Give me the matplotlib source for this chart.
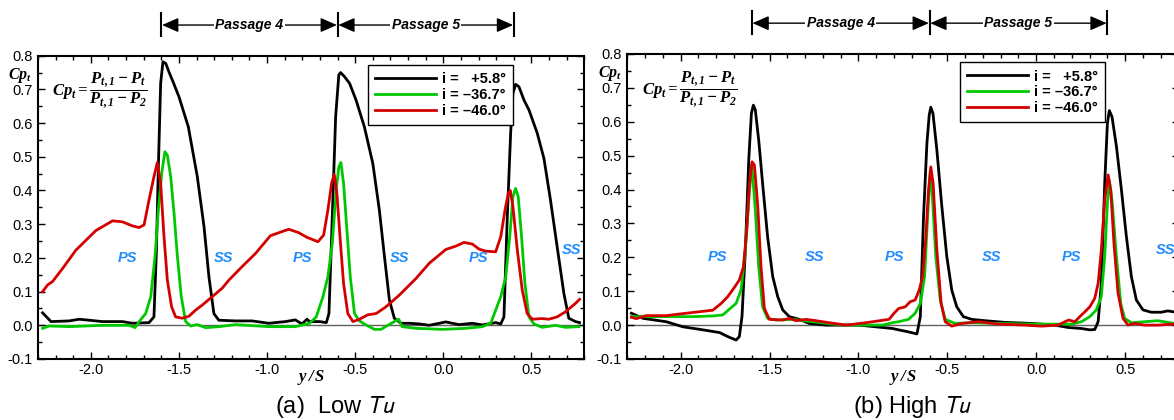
import numpy as np
import matplotlib
matplotlib.use('Agg')
import matplotlib.pyplot as plt
from matplotlib.ticker import MultipleLocator, FormatStrFormatter

plt.rcParams['font.family'] = 'Liberation Sans'
plt.rcParams['axes.unicode_minus'] = False
plt.rcParams['mathtext.fontset'] = 'custom'
plt.rcParams['mathtext.it'] = 'Liberation Serif:italic:bold'
plt.rcParams['mathtext.rm'] = 'Liberation Serif:italic:bold'
plt.rcParams['mathtext.bf'] = 'Liberation Serif:italic:bold'

# ---- data: (y/S, Cp_t) pairs ----
series_labels = ['i =   +5.8°', 'i = \u201336.7°', 'i = \u201346.0°']
series_colors = ['black', '#00c800', '#d40000']

low_black = [(-2.274, 0.037), (-2.226, 0.011), (-2.123, 0.013), (-2.066, 0.018), (-1.934, 0.011),
             (-1.821, 0.011), (-1.764, 0.006), (-1.670, 0.008), (-1.642, 0.025), (-1.628, 0.223),
             (-1.617, 0.470), (-1.604, 0.718), (-1.591, 0.782), (-1.575, 0.777), (-1.557, 0.752),
             (-1.534, 0.723), (-1.500, 0.678), (-1.447, 0.589), (-1.396, 0.441), (-1.358, 0.293),
             (-1.330, 0.144), (-1.302, 0.035), (-1.274, 0.015), (-1.179, 0.013), (-1.085, 0.013),
             (-0.991, 0.006), (-0.896, 0.011), (-0.840, 0.016), (-0.802, 0.004), (-0.774, 0.018),
             (-0.759, 0.011), (-0.702, 0.011), (-0.664, 0.008), (-0.649, 0.035), (-0.630, 0.322),
             (-0.611, 0.619), (-0.593, 0.743), (-0.583, 0.750), (-0.561, 0.738), (-0.532, 0.718),
             (-0.495, 0.668), (-0.448, 0.589), (-0.400, 0.480), (-0.363, 0.342), (-0.334, 0.204),
             (-0.306, 0.075), (-0.278, 0.021), (-0.240, 0.006), (-0.193, 0.006), (-0.136, 0.004),
             (-0.080, 0.000), (0.014, 0.010), (0.090, 0.002), (0.165, 0.006), (0.222, 0.001),
             (0.297, 0.008), (0.326, 0.004), (0.344, 0.025), (0.363, 0.322), (0.382, 0.570),
             (0.395, 0.688), (0.410, 0.715), (0.429, 0.708), (0.458, 0.668), (0.486, 0.639),
             (0.533, 0.570), (0.571, 0.495), (0.608, 0.372), (0.646, 0.233), (0.684, 0.095),
             (0.712, 0.021), (0.750, 0.011), (0.773, 0.008)]

low_green = [(-2.274, -0.009), (-2.236, -0.002), (-2.123, -0.004), (-1.934, 0.000), (-1.783, 0.000),
             (-1.749, -0.007), (-1.726, 0.011), (-1.689, 0.035), (-1.660, 0.085), (-1.636, 0.204),
             (-1.617, 0.342), (-1.598, 0.451), (-1.580, 0.515), (-1.566, 0.505), (-1.547, 0.441),
             (-1.528, 0.332), (-1.509, 0.204), (-1.487, 0.085), (-1.462, 0.011), (-1.434, -0.002),
             (-1.396, 0.002), (-1.349, -0.007), (-1.274, -0.004), (-1.179, 0.002), (-0.991, -0.004),
             (-0.840, -0.004), (-0.759, 0.006), (-0.721, 0.025), (-0.683, 0.085), (-0.655, 0.144),
             (-0.630, 0.243), (-0.608, 0.402), (-0.593, 0.470), (-0.581, 0.483), (-0.566, 0.421),
             (-0.547, 0.283), (-0.528, 0.144), (-0.504, 0.035), (-0.476, 0.013), (-0.438, 0.001),
             (-0.391, -0.012), (-0.353, -0.012), (-0.315, 0.000), (-0.278, 0.011), (-0.253, 0.018),
             (-0.234, -0.004), (-0.155, -0.009), (-0.004, -0.012), (0.128, -0.009), (0.222, -0.004),
             (0.269, 0.006), (0.297, 0.045), (0.326, 0.085), (0.354, 0.144), (0.377, 0.263),
             (0.395, 0.382), (0.410, 0.406), (0.425, 0.382), (0.444, 0.263), (0.463, 0.124),
             (0.486, 0.025), (0.514, 0.004), (0.561, -0.006), (0.637, 0.000), (0.693, -0.006),
             (0.769, -0.004)]

low_red = [(-2.274, 0.100), (-2.245, 0.120), (-2.217, 0.130), (-2.160, 0.169), (-2.085, 0.223),
           (-1.972, 0.281), (-1.877, 0.310), (-1.821, 0.307), (-1.764, 0.295), (-1.726, 0.290),
           (-1.698, 0.298), (-1.670, 0.372), (-1.642, 0.441), (-1.623, 0.483), (-1.604, 0.421),
           (-1.585, 0.263), (-1.566, 0.134), (-1.542, 0.055), (-1.519, 0.025), (-1.481, 0.021),
           (-1.443, 0.027), (-1.406, 0.045), (-1.368, 0.060), (-1.311, 0.085), (-1.255, 0.110),
           (-1.217, 0.134), (-1.142, 0.174), (-1.066, 0.213), (-0.981, 0.266), (-0.877, 0.285),
           (-0.821, 0.275), (-0.774, 0.261), (-0.759, 0.258), (-0.711, 0.248), (-0.679, 0.268),
           (-0.655, 0.342), (-0.634, 0.421), (-0.619, 0.448), (-0.604, 0.392), (-0.585, 0.253),
           (-0.566, 0.124), (-0.542, 0.035), (-0.513, 0.011), (-0.476, 0.018), (-0.429, 0.031),
           (-0.381, 0.035), (-0.325, 0.055), (-0.249, 0.090), (-0.155, 0.139), (-0.080, 0.184),
           (0.014, 0.225), (0.071, 0.235), (0.118, 0.246), (0.165, 0.241), (0.203, 0.226),
           (0.241, 0.220), (0.297, 0.218), (0.326, 0.263), (0.350, 0.342), (0.369, 0.392),
           (0.380, 0.400), (0.395, 0.352), (0.420, 0.223), (0.448, 0.104), (0.476, 0.035),
           (0.505, 0.018), (0.561, 0.020), (0.599, 0.018), (0.646, 0.025), (0.693, 0.040),
           (0.750, 0.065), (0.773, 0.077)]

high_black = [(-2.277, 0.035), (-2.212, 0.020), (-2.081, 0.010), (-1.987, -0.005), (-1.875, -0.014),
              (-1.781, -0.022), (-1.754, -0.029), (-1.726, -0.036), (-1.688, -0.044), (-1.670, -0.034),
              (-1.655, 0.025), (-1.636, 0.222), (-1.617, 0.487), (-1.602, 0.625), (-1.591, 0.649),
              (-1.580, 0.635), (-1.561, 0.546), (-1.539, 0.418), (-1.511, 0.261), (-1.482, 0.143),
              (-1.454, 0.084), (-1.426, 0.045), (-1.389, 0.025), (-1.333, 0.017), (-1.277, 0.005),
              (-1.183, 0.000), (-1.090, 0.000), (-0.997, 0.000), (-0.903, -0.005), (-0.809, -0.010),
              (-0.774, -0.014), (-0.727, -0.019), (-0.671, -0.026), (-0.652, 0.025), (-0.634, 0.320),
              (-0.615, 0.536), (-0.602, 0.620), (-0.593, 0.643), (-0.581, 0.625), (-0.559, 0.517),
              (-0.531, 0.350), (-0.503, 0.202), (-0.475, 0.103), (-0.447, 0.054), (-0.410, 0.025),
              (-0.363, 0.017), (-0.288, 0.013), (-0.176, 0.008), (-0.026, 0.005), (0.105, 0.000),
              (0.179, -0.007), (0.254, -0.010), (0.301, -0.014), (0.329, -0.013), (0.348, 0.010),
              (0.366, 0.123), (0.385, 0.418), (0.400, 0.595), (0.411, 0.633), (0.426, 0.615),
              (0.451, 0.527), (0.479, 0.399), (0.507, 0.261), (0.535, 0.143), (0.563, 0.074),
              (0.600, 0.045), (0.647, 0.038), (0.703, 0.038), (0.740, 0.042), (0.774, 0.039),
              (0.800, 0.038)]

high_green = [(-2.277, 0.025), (-2.193, 0.025), (-2.081, 0.025), (-1.931, 0.025), (-1.819, 0.027),
              (-1.763, 0.030), (-1.726, 0.047), (-1.688, 0.064), (-1.660, 0.104), (-1.636, 0.222),
              (-1.617, 0.369), (-1.600, 0.475), (-1.580, 0.340), (-1.561, 0.172), (-1.539, 0.054),
              (-1.511, 0.020), (-1.464, 0.015), (-1.370, 0.017), (-1.258, 0.010), (-1.146, 0.003),
              (-1.071, 0.000), (-0.959, 0.000), (-0.865, 0.000), (-0.809, 0.007), (-0.774, 0.010),
              (-0.718, 0.017), (-0.681, 0.035), (-0.652, 0.064), (-0.628, 0.143), (-0.609, 0.340),
              (-0.596, 0.458), (-0.583, 0.369), (-0.565, 0.202), (-0.540, 0.074), (-0.512, 0.017),
              (-0.456, 0.005), (-0.363, 0.007), (-0.213, 0.005), (-0.026, 0.003), (0.123, 0.003),
              (0.198, 0.003), (0.254, 0.010), (0.301, 0.025), (0.338, 0.045), (0.366, 0.084),
              (0.385, 0.202), (0.400, 0.359), (0.411, 0.428), (0.426, 0.369), (0.451, 0.202),
              (0.475, 0.064), (0.497, 0.020), (0.535, 0.007), (0.609, 0.010), (0.684, 0.013),
              (0.774, 0.005), (0.800, 0.004)]

high_red = [(-2.277, 0.023), (-2.249, 0.019), (-2.193, 0.028), (-2.081, 0.028), (-1.969, 0.035),
            (-1.819, 0.044), (-1.772, 0.064), (-1.735, 0.084), (-1.698, 0.111), (-1.670, 0.133),
            (-1.647, 0.172), (-1.628, 0.281), (-1.613, 0.418), (-1.598, 0.482), (-1.585, 0.472),
            (-1.566, 0.349), (-1.548, 0.172), (-1.529, 0.049), (-1.501, 0.017), (-1.426, 0.015),
            (-1.389, 0.020), (-1.351, 0.013), (-1.295, 0.017), (-1.239, 0.013), (-1.164, 0.007),
            (-1.071, 0.000), (-0.959, 0.007), (-0.828, 0.017), (-0.800, 0.035), (-0.774, 0.049),
            (-0.737, 0.054), (-0.709, 0.069), (-0.681, 0.074), (-0.658, 0.104), (-0.639, 0.143),
            (-0.621, 0.261), (-0.606, 0.398), (-0.593, 0.467), (-0.580, 0.418), (-0.559, 0.222),
            (-0.535, 0.064), (-0.512, 0.010), (-0.475, -0.003), (-0.419, 0.005), (-0.325, 0.010),
            (-0.213, 0.003), (-0.064, 0.000), (0.030, -0.003), (0.123, 0.000), (0.161, 0.010),
            (0.183, 0.015), (0.217, 0.010), (0.245, 0.025), (0.273, 0.039), (0.301, 0.054),
            (0.329, 0.079), (0.348, 0.123), (0.366, 0.222), (0.385, 0.369), (0.404, 0.443),
            (0.419, 0.398), (0.437, 0.241), (0.460, 0.094), (0.488, 0.020), (0.516, 0.000),
            (0.553, 0.005), (0.609, 0.000), (0.684, 0.000), (0.774, 0.003), (0.800, 0.004)]

passage_edges = [-1.6, -0.6, 0.4]
passage_names = ['Passage 4', 'Passage 5']
side_labels = ['PS', 'SS', 'PS', 'SS', 'PS', 'SS']
side_x = [-1.794, -1.245, -0.798, -0.249, 0.20, 0.725]
side_y = [0.2, 0.2, 0.2, 0.2, 0.2, 0.223]


def draw_panel(ax, curves, legend_anchor, caption, caption_x):
    ax.axhline(0.0, color='#606060', lw=1.0, zorder=1)
    handles = []
    for data, col in zip(curves, series_colors):
        xy = np.array(data).T
        h, = ax.plot(xy[0], xy[1], color=col, lw=2.0, zorder=3)
        handles.append(h)

    ax.set_xlim(-2.3, 0.8)
    ax.set_ylim(-0.1, 0.8)
    ax.xaxis.set_major_locator(MultipleLocator(0.5))
    ax.xaxis.set_minor_locator(MultipleLocator(0.1))
    ax.yaxis.set_major_locator(MultipleLocator(0.1))
    ax.yaxis.set_minor_locator(MultipleLocator(0.05))
    ax.xaxis.set_major_formatter(FormatStrFormatter('%.1f'))
    ax.yaxis.set_major_formatter(FormatStrFormatter('%.1f'))
    ax.tick_params(which='both', direction='in', top=True, right=True, width=1, labelsize=10.5)
    ax.tick_params(which='major', length=5)
    ax.tick_params(which='minor', length=3)
    ax.tick_params(axis='y', pad=4)
    ax.tick_params(axis='x', pad=3)
    for s in ax.spines.values():
        s.set_linewidth(1.5)

    leg = ax.legend(handles, series_labels, loc='upper left', bbox_to_anchor=legend_anchor,
                    prop={'weight': 'bold', 'size': 10.5}, fancybox=False, edgecolor='black',
                    framealpha=1, handlelength=4.2, handletextpad=0.4, labelspacing=0.12,
                    borderpad=0.5, borderaxespad=0)
    leg.get_frame().set_linewidth(1.0)

    for lab, x, y in zip(side_labels, side_x, side_y):
        ax.text(x, y, lab, color='#1e8cff', fontsize=10.5, fontweight='bold', fontstyle='italic',
                ha='center', va='center', zorder=4)

    # passage markers above the frame
    for x in passage_edges:
        ax.plot([x, x], [0.858, 0.926], color='black', lw=1.5, clip_on=False)
    for i, name in enumerate(passage_names):
        x0, x1 = passage_edges[i], passage_edges[i + 1]
        ax.annotate('', xy=(x1 - 0.004, 0.891), xytext=(x0 + 0.004, 0.891),
                    arrowprops=dict(arrowstyle='<|-|>,head_length=0.5,head_width=0.22',
                                    color='black', lw=1.0, shrinkA=0, shrinkB=0,
                                    mutation_scale=20),
                    annotation_clip=False)
        ax.text((x0 + x1) / 2, 0.891, name, fontsize=10, fontweight='bold', fontstyle='italic',
                ha='center', va='center', clip_on=False,
                bbox=dict(facecolor='white', edgecolor='none', pad=1.0))

    ax.text(0.026, 0.886, r'$Cp_t = \dfrac{P_{t,1} - P_t}{P_{t,1} - P_2}$', transform=ax.transAxes,
            fontsize=12, ha='left', va='center')
    ax.text(-0.032, 0.935, r'$Cp_t$', transform=ax.transAxes, fontsize=11.5, ha='center', va='center')
    ax.text(0.5, -0.06, r'$y\,/\,S$', transform=ax.transAxes, fontsize=12, ha='center', va='center')

    ax.figure.text(caption_x, 0.032, caption, fontsize=17, ha='left', va='center',
                   math_fontfamily='stixsans')


fig = plt.figure(figsize=(11.74, 4.20), dpi=100)
ax_low = fig.add_axes([38 / 1174, 1 - 359 / 420, 546.3 / 1174, 303.3 / 420])
ax_high = fig.add_axes([627.3 / 1174, 1 - 359 / 420, 551.2 / 1174, 305 / 420])

draw_panel(ax_low, [low_black, low_green, low_red], (0.6035, 0.969),
           r'(a)  Low $\mathit{Tu}$', 275 / 1174)
draw_panel(ax_high, [high_black, high_green, high_red], (0.6032, 0.973),
           r'(b) High $\mathit{Tu}$', 853 / 1174)

fig.savefig('out.png', dpi=100)
